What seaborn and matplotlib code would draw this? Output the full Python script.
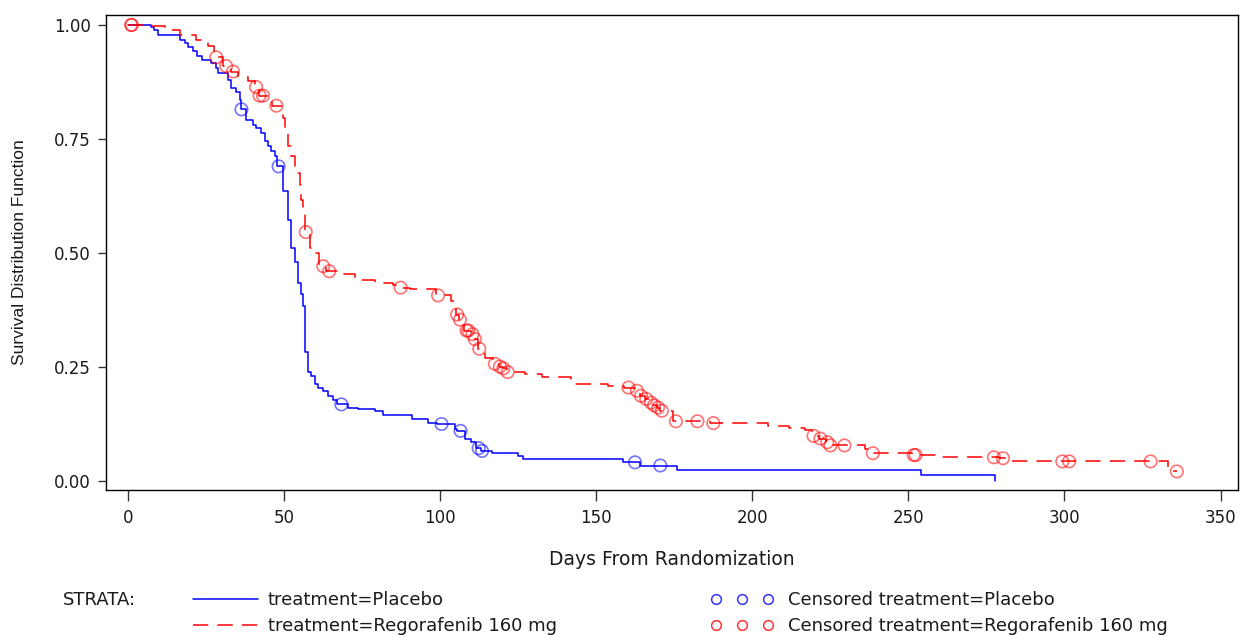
import numpy as np
import pandas as pd
import matplotlib
matplotlib.use("Agg")
import matplotlib.pyplot as plt
from matplotlib.lines import Line2D
import seaborn as sns

# Kaplan-Meier step data (days, survival after the step)
placebo_t = [0, 7.4, 8.4, 9.5, 16.5, 18.1, 19.2, 20.8, 21.9, 23.5, 26.6, 28.2, 28.8, 32.0, 33.0,
             34.6, 35.7, 36.0, 37.8, 40.0, 41.0, 42.6, 43.7, 44.8, 45.8, 46.9, 47.6, 49.6, 51.2, 52.3,
             53.4, 54.4, 55.5, 56.1, 56.6, 57.6, 58.7, 59.8, 60.9, 62.5, 64.0, 65.7, 67.0, 70.5, 73.7,
             79.0, 81.7, 90.8, 96.0, 99.0, 104.6, 105.5, 107.8, 110.0, 111.5, 113.0, 116.5, 125.0, 126.6, 158.7,
             164.0, 175.8, 253.9, 277.9]
placebo_s = [1.0, 0.995, 0.989, 0.978, 0.967, 0.960, 0.951, 0.942, 0.931, 0.923, 0.916, 0.905, 0.894, 0.880, 0.861,
             0.854, 0.836, 0.815, 0.792, 0.781, 0.774, 0.763, 0.745, 0.734, 0.723, 0.712, 0.690, 0.635, 0.573, 0.512,
             0.480, 0.435, 0.410, 0.384, 0.282, 0.238, 0.230, 0.212, 0.205, 0.198, 0.187, 0.178, 0.168, 0.161, 0.158,
             0.153, 0.145, 0.136, 0.128, 0.125, 0.114, 0.110, 0.092, 0.085, 0.072, 0.066, 0.061, 0.055, 0.048, 0.041,
             0.034, 0.024, 0.013, 0.0]
placebo_cens_t = [36.3, 48.2, 68.3, 100.4, 106.5, 112.3, 113.4, 162.4, 170.5]
placebo_cens_s = [0.815, 0.690, 0.168, 0.125, 0.110, 0.072, 0.066, 0.041, 0.034]

rego_t = [0, 6.3, 11.7, 16.5, 21.8, 25.6, 27.5, 30.5, 33.0, 35.2, 38.4, 40.5, 41.8, 46.0, 49.6,
          50.2, 51.2, 52.3, 53.4, 55.0, 55.5, 56.1, 56.6, 58.2, 59.2, 61.0, 63.5, 67.3, 72.6, 79.0,
          84.9, 86.5, 90.2, 95.0, 98.5, 103.6, 104.7, 105.2, 106.0, 107.5, 110.0, 110.8, 112.0, 114.3, 117.0,
          118.8, 120.0, 121.3, 127.1, 132.5, 142.0, 153.9, 159.0, 162.5, 164.0, 165.5, 167.0, 168.0, 169.5, 170.5,
          174.5, 186.5, 205.0, 211.6, 217.0, 219.0, 221.5, 223.5, 224.5, 236.2, 238.0, 251.0, 258.7, 279.0, 282.2,
          333.3]
rego_s = [1.0, 0.997, 0.989, 0.978, 0.967, 0.953, 0.929, 0.910, 0.898, 0.887, 0.877, 0.864, 0.845, 0.823, 0.796,
          0.774, 0.734, 0.712, 0.675, 0.650, 0.617, 0.588, 0.546, 0.511, 0.500, 0.471, 0.460, 0.453, 0.440, 0.434,
          0.430, 0.424, 0.422, 0.420, 0.407, 0.395, 0.390, 0.365, 0.354, 0.330, 0.322, 0.311, 0.290, 0.270, 0.257,
          0.251, 0.247, 0.239, 0.234, 0.227, 0.212, 0.209, 0.205, 0.198, 0.187, 0.180, 0.172, 0.166, 0.161, 0.154,
          0.131, 0.127, 0.120, 0.116, 0.112, 0.099, 0.093, 0.085, 0.078, 0.070, 0.061, 0.057, 0.052, 0.050, 0.043,
          0.021]
rego_cens_t = [0.9, 1.2, 28.2, 31.4, 33.6, 41.0, 42.1, 43.2, 47.5, 56.9, 62.5, 64.4, 87.3, 99.3, 105.4,
               106.3, 108.4, 109.0, 110.3, 111.1, 112.5, 117.5, 119.1, 120.2, 121.6, 160.3, 163.0, 164.3, 166.0, 167.5,
               168.5, 169.8, 171.0, 175.5, 182.4, 187.5, 219.6, 221.8, 224.0, 225.0, 229.5, 238.6, 251.7, 252.3, 277.4,
               280.3, 299.3, 301.5, 327.6, 336.0]
rego_cens_s = [1.0, 1.0, 0.929, 0.910, 0.898, 0.864, 0.845, 0.845, 0.823, 0.546, 0.471, 0.460, 0.424, 0.407, 0.365,
               0.354, 0.330, 0.330, 0.322, 0.311, 0.290, 0.257, 0.251, 0.247, 0.239, 0.205, 0.198, 0.187, 0.180, 0.172,
               0.166, 0.161, 0.154, 0.131, 0.131, 0.127, 0.099, 0.093, 0.085, 0.078, 0.078, 0.061, 0.057, 0.057, 0.052,
               0.050, 0.043, 0.043, 0.043, 0.021]

x_ticks = [0, 50, 100, 150, 200, 250, 300, 350]
y_ticks = [0.0, 0.25, 0.5, 0.75, 1.0]

blue = "#0000ff"
red = "#ff0000"
txt = "#1a1a1a"


def km_frame(t, s, ct):
    # curve runs on to the last observation (censored or not)
    t = list(t)
    s = list(s)
    if max(ct) > t[-1]:
        t.append(max(ct))
        s.append(s[-1])
    return pd.DataFrame({"day": t, "surv": s})


sns.set_theme(style="ticks")
plt.rcParams["font.family"] = ["DejaVu Sans"]
plt.rcParams["text.color"] = txt
plt.rcParams["axes.labelcolor"] = txt
plt.rcParams["xtick.labelcolor"] = txt
plt.rcParams["ytick.labelcolor"] = txt

fig = plt.figure(figsize=(12.4, 6.35), dpi=100)
ax = fig.add_axes([106 / 1240, 1 - 490 / 635, 1132 / 1240, 475 / 635])

df_p = km_frame(placebo_t, placebo_s, placebo_cens_t)
df_r = km_frame(rego_t, rego_s, rego_cens_t)

sns.lineplot(ax=ax, data=df_p, x="day", y="surv", sort=False, estimator=None,
             drawstyle="steps-post", color=blue, linewidth=1.1)
sns.lineplot(ax=ax, data=df_r, x="day", y="surv", sort=False, estimator=None,
             drawstyle="steps-post", color=red, linewidth=1.1, linestyle=(0, (10, 6)))

sns.scatterplot(ax=ax, x=placebo_cens_t, y=placebo_cens_s, marker="o", s=80,
                facecolor="none", edgecolor=(0, 0, 1, 0.55), linewidth=1.2, zorder=3)
sns.scatterplot(ax=ax, x=rego_cens_t, y=rego_cens_s, marker="o", s=80,
                facecolor="none", edgecolor=(1, 0, 0, 0.55), linewidth=1.2, zorder=3)

ax.set_xlim(-7.1, 355.6)
ax.set_ylim(-0.0197, 1.0219)
ax.set_xticks(x_ticks)
ax.set_yticks(y_ticks)
ax.set_yticklabels([f"{v:.2f}" for v in y_ticks])
ax.tick_params(axis="x", direction="out", length=8, width=1, color="#333333", pad=6, labelsize=12)
ax.tick_params(axis="y", direction="out", length=6, width=1, color="#333333", pad=5, labelsize=12)
for sp in ax.spines.values():
    sp.set_visible(True)
    sp.set_color("black")
    sp.set_linewidth(1.0)

ax.set_xlabel("Days From Randomization", fontsize=13.5, labelpad=16)
ax.set_ylabel("Survival Distribution Function", fontsize=12.5, family=["Liberation Sans"], labelpad=19)

# legend at the bottom
fig.text(63 / 1240, 1 - 600 / 635, "STRATA:", fontsize=13, va="center")
line_handles = [Line2D([], [], color=blue, lw=1.1),
                Line2D([], [], color=red, lw=1.1, ls=(0, (10, 6)))]
leg1 = fig.legend(line_handles, ["treatment=Placebo", "treatment=Regorafenib 160 mg"],
                  loc="upper left", bbox_to_anchor=(193 / 1240, 1 - 591 / 635),
                  frameon=False, fontsize=13, borderpad=0, borderaxespad=0,
                  handlelength=3.6, handletextpad=0.55, labelspacing=0.45)
cens_handles = [Line2D([], [], ls="none", marker="o", ms=7, mfc="none", mec=(0, 0, 1, 0.8), mew=1.1),
                Line2D([], [], ls="none", marker="o", ms=7, mfc="none", mec=(1, 0, 0, 0.8), mew=1.1)]
leg2 = fig.legend(cens_handles, ["Censored treatment=Placebo", "Censored treatment=Regorafenib 160 mg"],
                  loc="upper left", bbox_to_anchor=(710.6 / 1240, 1 - 591 / 635),
                  frameon=False, fontsize=13, borderpad=0, borderaxespad=0, numpoints=3,
                  handlelength=3.48, handletextpad=0.8, labelspacing=0.45)

fig.savefig("out.png", dpi=100)
